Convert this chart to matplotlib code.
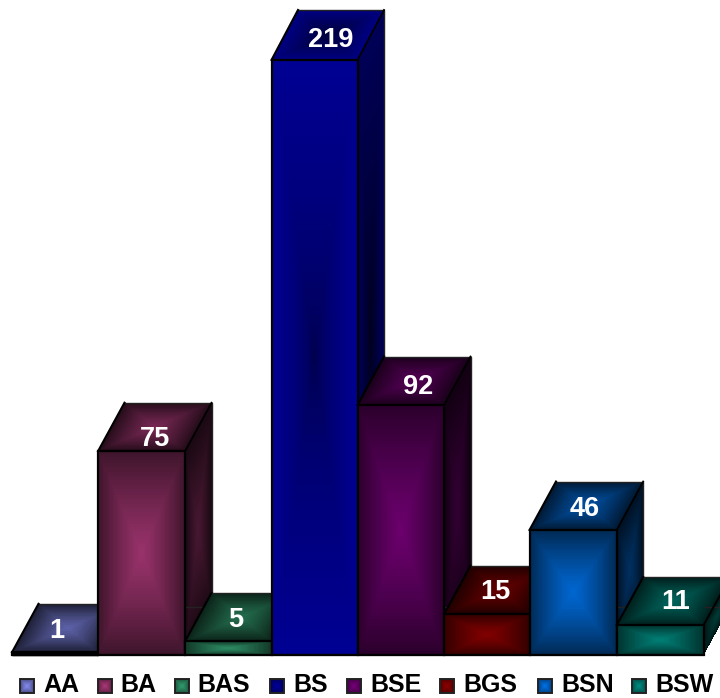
import numpy as np
import matplotlib
matplotlib.use('Agg')
import matplotlib.pyplot as plt
from matplotlib.patches import Polygon

categories = ['AA', 'BA', 'BAS', 'BS', 'BSE', 'BGS', 'BSN', 'BSW']
values = [1, 75, 5, 219, 92, 15, 46, 11]
bar_colors = [(118, 124, 214), (152, 50, 106), (44, 138, 98), (0, 0, 140),
              (106, 0, 108), (128, 0, 0), (0, 102, 208), (0, 126, 116)]

# layout, in pixels of the original picture
W, H = 720, 698
Y0 = 655
PX_PER_UNIT = 2.717
bar_edges = [12, 98, 185, 271.5, 357.5, 444, 529.5, 616.7, 703.5]
depth_x = 26.5
depth_px = [48.5, 48.5, 48.5, 50, 48.5, 48.5, 48.5, 48]
label_x = [57, 155, 236, 331, 418, 495, 585, 676]
label_y = [631, 439, 620, 40, 387, 592, 509, 602]
legend_swatch_x = [20, 98, 175, 270, 347, 440, 538, 632]
legend_text_x = [43, 120, 197, 293, 370, 463, 561, 655]
legend_y = 686

plt.rcParams['font.family'] = ['Liberation Sans', 'DejaVu Sans']

fig = plt.figure(figsize=(W / 100, H / 100), dpi=100)
ax = fig.add_axes([0, 0, 1, 1])


def py_to_val(py):
    return (Y0 - py) / PX_PER_UNIT


def shade(ax, corners, color, lo, hi, z, power=1.2, n=70, invert=False):
    # corners: bottom left, bottom right, top right, top left
    p = np.array(corners, dtype=float)
    u = np.linspace(0, 1, n + 1)
    v = np.linspace(0, 1, n + 1)
    uu, vv = np.meshgrid(u, v)
    X = (1 - vv) * ((1 - uu) * p[0, 0] + uu * p[1, 0]) + vv * ((1 - uu) * p[3, 0] + uu * p[2, 0])
    Y = (1 - vv) * ((1 - uu) * p[0, 1] + uu * p[1, 1]) + vv * ((1 - uu) * p[3, 1] + uu * p[2, 1])
    cu = (u[:-1] + u[1:]) / 2
    cv = (v[:-1] + v[1:]) / 2
    a, b = np.meshgrid(np.abs(2 * cu - 1), np.abs(2 * cv - 1))
    d = np.maximum(a, b) ** power
    k = lo + (hi - lo) * (d if invert else 1 - d)
    rgb = np.clip(k[..., None] * np.array(color) / 255, 0, 1)
    ax.pcolormesh(X, Y, rgb, antialiased=False, linewidth=0, zorder=z)


for i, (val, col) in enumerate(zip(values, bar_colors)):
    l, r = bar_edges[i], bar_edges[i + 1]
    dy = depth_px[i] / PX_PER_UNIT
    dx = depth_x
    z = 10 + i * 5  # later bars sit in front of earlier ones
    front = [(l, 0), (r, 0), (r, val), (l, val)]
    side = [(r, 0), (r + dx, dy), (r + dx, val + dy), (r, val)]
    top = [(l, val), (r, val), (r + dx, val + dy), (l + dx, val + dy)]
    if categories[i] == 'BS':
        shade(ax, side, col, 0.18, 0.62, z, power=0.7, invert=True)
        shade(ax, top, col, 0.45, 0.95, z, invert=True)
        shade(ax, front, col, 0.5, 1.05, z, power=0.55, invert=True)
    else:
        shade(ax, side, col, 0.16, 0.46, z)
        shade(ax, top, col, 0.24, 0.78, z)
        shade(ax, front, col, 0.4, 1.0, z)
    # back edges are thinner than the front ones
    ax.plot([r, r + dx, r + dx, l + dx], [dy, dy, val + dy, val + dy], color='#222222', lw=1.0, zorder=z + 1)
    ax.plot([l, l + dx], [val, val + dy], color='black', lw=1.5, zorder=z + 1)
    ax.plot([r, r + dx], [val, val + dy], color='black', lw=1.3, zorder=z + 1)
    ax.add_patch(Polygon(front, closed=True, fill=False, edgecolor='black', linewidth=1.6,
                         joinstyle='miter', zorder=z + 2))
    ax.text(label_x[i], py_to_val(label_y[i]), str(val), color='white', fontsize=19.5,
            fontweight='bold', ha='center', va='center', zorder=100)

ax.plot([bar_edges[0], bar_edges[-1]], [0, 0], color='black', lw=1.5, solid_capstyle='butt', zorder=90)
ax.plot([bar_edges[0], bar_edges[1]], [0.3, 0.3], color='black', lw=2.5, solid_capstyle='butt', zorder=90)

# legend
for name, col, sx, tx in zip(categories, bar_colors, legend_swatch_x, legend_text_x):
    y1, y2 = py_to_val(legend_y + 7), py_to_val(legend_y - 7)
    corners = [(sx, y1), (sx + 14, y1), (sx + 14, y2), (sx, y2)]
    bright = tuple(min(255, c * 1.1) for c in col)
    shade(ax, corners, bright, 0.55, 1.0, 80, n=14)
    ax.add_patch(Polygon(corners, closed=True, fill=False, edgecolor='#222222', linewidth=1.4, zorder=81))
    ax.text(tx, py_to_val(legend_y - 1), name, color='black', fontsize=18,
            fontweight='bold', ha='left', va='center')

ax.set_xlim(0, W)
ax.set_ylim(py_to_val(H), py_to_val(0))
ax.axis('off')

fig.savefig('out.png', dpi=100, facecolor='white')
